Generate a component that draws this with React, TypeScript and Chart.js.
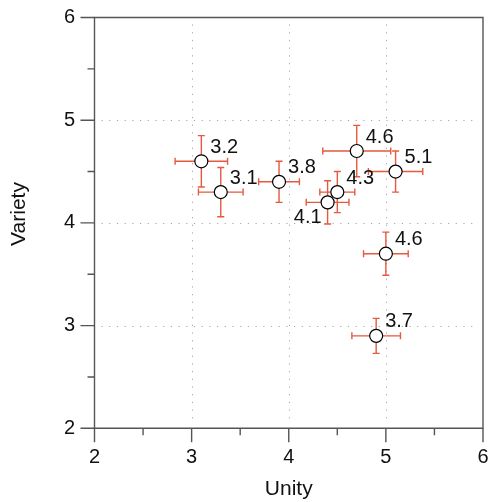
import React, { useEffect, useRef } from 'react';
import { Chart, registerables } from 'chart.js';

Chart.register(...registerables);

// ---- data ----
const unity = [3.1, 3.3, 3.9, 4.5, 4.4, 4.7, 5.1, 5.0, 4.9];
const variety = [4.6, 4.3, 4.4, 4.3, 4.2, 4.7, 4.5, 3.7, 2.9];
const unityErr = [0.27, 0.23, 0.21, 0.18, 0.22, 0.35, 0.28, 0.23, 0.25];
const varietyErr = [0.25, 0.24, 0.2, 0.2, 0.21, 0.25, 0.2, 0.21, 0.17];
const pointLabels = ['3.2', '3.1', '3.8', '4.3', '4.1', '4.6', '5.1', '4.6', '3.7'];
const labelSide = ['ne', 'ne', 'ne', 'ne', 'sw', 'ne', 'ne', 'ne', 'ne'];
const majorTicks = [2, 3, 4, 5, 6];
const minorTicks = [2.5, 3.5, 4.5, 5.5];
const gridValues = [3, 4, 5];
const xTitle = 'Unity';
const yTitle = 'Variety';

const FONT = "'Liberation Sans', Arial, Helvetica, sans-serif";
const ERR_COLOR = '#e5593f';
const FRAME_COLOR = '#555555';

export default function App() {
  const ref = useRef<HTMLCanvasElement>(null);

  useEffect(() => {
    const canvas = ref.current;
    if (!canvas) return;

    const decor = {
      id: 'decor',
      beforeDatasetsDraw(chart: any) {
        const { ctx, chartArea, scales } = chart;
        const { left, right, top, bottom } = chartArea;
        const xs = scales.x;
        const ys = scales.y;
        ctx.save();
        // dotted grid
        ctx.strokeStyle = '#a8a8a8';
        ctx.lineWidth = 1;
        ctx.setLineDash([1.2, 6.5]);
        for (const v of gridValues) {
          const px = Math.round(xs.getPixelForValue(v)) + 0.5;
          ctx.beginPath();
          ctx.moveTo(px, top + 7);
          ctx.lineTo(px, bottom - 6);
          ctx.stroke();
          const py = Math.round(ys.getPixelForValue(v)) + 0.5;
          ctx.beginPath();
          ctx.moveTo(left + 7, py);
          ctx.lineTo(right - 6, py);
          ctx.stroke();
        }
        ctx.setLineDash([]);
        // error bars
        ctx.strokeStyle = ERR_COLOR;
        ctx.lineWidth = 1.4;
        const cap = 3.5;
        for (let i = 0; i < unity.length; i++) {
          const px = xs.getPixelForValue(unity[i]);
          const py = ys.getPixelForValue(variety[i]);
          const x1 = xs.getPixelForValue(unity[i] - unityErr[i]);
          const x2 = xs.getPixelForValue(unity[i] + unityErr[i]);
          const y1 = ys.getPixelForValue(variety[i] + varietyErr[i]);
          const y2 = ys.getPixelForValue(variety[i] - varietyErr[i]);
          ctx.beginPath();
          ctx.moveTo(x1, py); ctx.lineTo(x2, py);
          ctx.moveTo(x1, py - cap); ctx.lineTo(x1, py + cap);
          ctx.moveTo(x2, py - cap); ctx.lineTo(x2, py + cap);
          ctx.moveTo(px, y1); ctx.lineTo(px, y2);
          ctx.moveTo(px - cap, y1); ctx.lineTo(px + cap, y1);
          ctx.moveTo(px - cap, y2); ctx.lineTo(px + cap, y2);
          ctx.stroke();
        }
        ctx.restore();
      },
      afterDatasetsDraw(chart: any) {
        const { ctx, scales } = chart;
        const xs = scales.x;
        const ys = scales.y;
        ctx.save();
        ctx.font = `20px ${FONT}`;
        ctx.fillStyle = '#111111';
        ctx.textBaseline = 'middle';
        for (let i = 0; i < unity.length; i++) {
          const px = xs.getPixelForValue(unity[i]);
          const py = ys.getPixelForValue(variety[i]);
          if (labelSide[i] === 'sw') {
            ctx.textAlign = 'right';
            ctx.fillText(pointLabels[i], px - 6, py + 15);
          } else {
            ctx.textAlign = 'left';
            ctx.fillText(pointLabels[i], px + 9, py - 14);
          }
        }
        ctx.restore();
      },
      afterDraw(chart: any) {
        const { ctx, chartArea, scales } = chart;
        const { left, right, top, bottom } = chartArea;
        const xs = scales.x;
        const ys = scales.y;
        ctx.save();
        ctx.strokeStyle = FRAME_COLOR;
        ctx.lineWidth = 1.4;
        ctx.beginPath();
        ctx.rect(left, top, right - left, bottom - top);
        ctx.stroke();
        ctx.beginPath();
        for (const v of majorTicks) {
          const py = ys.getPixelForValue(v);
          ctx.moveTo(left, py); ctx.lineTo(left - 14, py);
          const px = xs.getPixelForValue(v);
          ctx.moveTo(px, bottom); ctx.lineTo(px, bottom + 14);
        }
        for (const v of minorTicks) {
          const py = ys.getPixelForValue(v);
          ctx.moveTo(left, py); ctx.lineTo(left - 7, py);
          const px = xs.getPixelForValue(v);
          ctx.moveTo(px, bottom); ctx.lineTo(px, bottom + 7);
        }
        ctx.stroke();
        // axis titles
        ctx.fillStyle = '#111111';
        ctx.font = `21px ${FONT}`;
        ctx.textAlign = 'center';
        ctx.textBaseline = 'middle';
        ctx.fillText(xTitle, (left + right) / 2, 489.4);
        ctx.translate(19.5, 214);
        ctx.rotate(-Math.PI / 2);
        ctx.fillText(yTitle, 0, 0);
        ctx.restore();
      },
    };

    const zeroPad = (s: any) => {
      s.paddingTop = 0;
      s.paddingBottom = 0;
      s.paddingLeft = 0;
      s.paddingRight = 0;
    };

    const chart = new Chart(canvas, {
      type: 'scatter',
      data: {
        datasets: [
          {
            data: unity.map((u, i) => ({ x: u, y: variety[i] })),
            pointRadius: 6.5,
            pointHoverRadius: 6.5,
            backgroundColor: '#ffffff',
            borderColor: '#000000',
            borderWidth: 1.2,
          },
        ],
      },
      options: {
        responsive: false,
        animation: false,
        events: [],
        layout: { autoPadding: false, padding: { left: 0, right: 7, top: 17.5, bottom: 0 } },
        plugins: { legend: { display: false }, tooltip: { enabled: false } },
        scales: {
          x: {
            type: 'linear',
            min: 2,
            max: 6,
            ticks: {
              stepSize: 1,
              padding: 16.8,
              color: '#111111',
              font: { family: FONT, size: 20 },
            },
            grid: { display: false, drawTicks: false },
            border: { display: false },
            afterFit: (s: any) => {
              s.height = 73.7;
              zeroPad(s);
            },
          },
          y: {
            type: 'linear',
            min: 2,
            max: 6,
            ticks: {
              stepSize: 1,
              padding: 19.5,
              color: '#111111',
              font: { family: FONT, size: 20 },
            },
            grid: { display: false, drawTicks: false },
            border: { display: false },
            afterFit: (s: any) => {
              s.width = 94.5;
              zeroPad(s);
            },
          },
        },
      },
      plugins: [decor],
    });

    return () => chart.destroy();
  }, []);

  return (
    <div style={{ position: 'absolute', left: 0, top: 0, width: 490, height: 502, background: '#fff' }}>
      <canvas ref={ref} width={490} height={502} style={{ display: 'block' }} />
    </div>
  );
}
